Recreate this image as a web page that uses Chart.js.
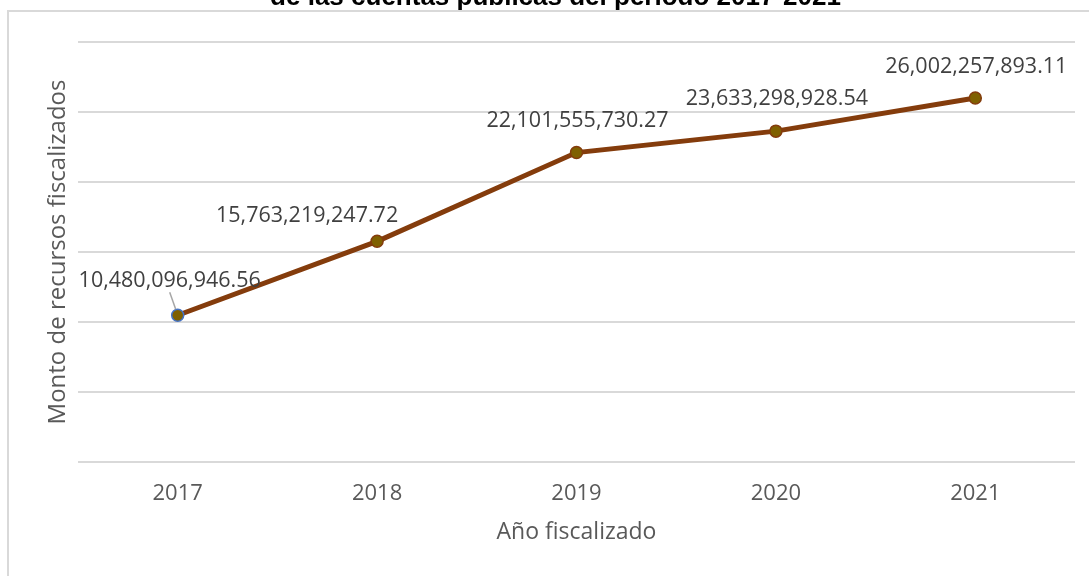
<!DOCTYPE html>
<html>
<head>
<meta charset="utf-8">
<script src="https://cdn.jsdelivr.net/npm/chart.js@4"></script>
<style>
  html, body { margin: 0; padding: 0; background: #fff; overflow: hidden; }
  #frame {
    position: absolute; left: 7px; top: 10px; width: 1200px; height: 700px;
    border-left: 2px solid #d9d9d9; border-top: 2px solid #d9d9d9;
  }
  #wrap { position: absolute; left: 0; top: -30px; width: 1089px; height: 606px; }
</style>
</head>
<body>
<div id="frame"></div>
<div id="wrap"><canvas id="montos"></canvas></div>
<script>
// años fiscalizados y monto de recursos (pesos)
const years = ['2017', '2018', '2019', '2020', '2021'];
const montos = [10480096946.56, 15763219247.72, 22101555730.27, 23633298928.54, 26002257893.11];
const yMax = 30000000000;
const yStep = 5000000000;

const COL_LINE = '#843c0c';
const COL_MARK = '#7f6000';
const COL_TEXT = '#595959';
const FONT = "'Open Sans', 'DejaVu Sans', sans-serif";

// where each value label sits relative to its marker (px)
const labelPos = [
    { dx: -8, dy: -34, leader: true },
    { dx: -70, dy: -25 },
    { dx: 1, dy: -32 },
    { dx: 1, dy: -32 },
    { dx: 1, dy: -31 }
];

function fmt(v) {
    return v.toLocaleString('en-US', { minimumFractionDigits: 2, maximumFractionDigits: 2 });
}

const valueLabels = {
    id: 'valueLabels',
    afterDatasetsDraw(chart) {
        const ctx = chart.ctx;
        const meta = chart.getDatasetMeta(0);
        const data = chart.data.datasets[0].data;
        ctx.save();
        ctx.font = '21.5px ' + FONT;
        ctx.fillStyle = '#404040';
        ctx.textAlign = 'center';
        ctx.textBaseline = 'middle';
        meta.data.forEach((pt, i) => {
            const p = labelPos[i];
            const x = pt.x + p.dx, y = pt.y + p.dy;
            if (p.leader) {
                ctx.strokeStyle = '#a6a6a6';
                ctx.lineWidth = 1.5;
                ctx.beginPath();
                ctx.moveTo(x, y + 11);
                ctx.lineTo(pt.x - 2, pt.y - 6);
                ctx.stroke();
            }
            ctx.fillText(fmt(data[i]), x, y);
        });
        ctx.restore();
    }
};

new Chart(document.getElementById('montos'), {
    type: 'line',
    data: {
        labels: years,
        datasets: [{
            data: montos,
            borderColor: COL_LINE,
            borderWidth: 5,
            tension: 0,
            pointRadius: 6,
            pointBorderWidth: 1.5,
            pointBackgroundColor: COL_MARK,
            pointBorderColor: ['#4472c4', COL_LINE, COL_LINE, COL_LINE, COL_LINE],
            fill: false
        }]
    },
    options: {
        responsive: true,
        maintainAspectRatio: false,
        animation: false,
        layout: { padding: { left: 36, right: 14, top: 0, bottom: 20 } },
        plugins: {
            legend: { display: false },
            tooltip: { enabled: false },
            title: {
                display: true,
                text: 'de las cuentas públicas del periodo 2017-2021',
                color: '#000',
                font: { family: "'Liberation Sans', Arial, sans-serif", size: 26, weight: 'bold' },
                padding: { top: 12.4, bottom: 28.4 }
            }
        },
        scales: {
            x: {
                offset: true,
                grid: { display: false, drawTicks: true, tickLength: 18.8 },
                border: { display: false },
                ticks: { color: COL_TEXT, font: { family: FONT, size: 22 }, padding: 0 },
                title: {
                    display: true,
                    text: 'Año fiscalizado',
                    color: COL_TEXT,
                    font: { family: FONT, size: 23 },
                    padding: { top: 11, bottom: 10.2 }
                }
            },
            y: {
                min: 0,
                max: yMax,
                ticks: { display: false, stepSize: yStep },
                grid: { color: '#d9d9d9', lineWidth: 2, drawTicks: false },
                border: { display: false },
                title: {
                    display: true,
                    text: 'Monto de recursos fiscalizados',
                    color: COL_TEXT,
                    font: { family: FONT, size: 24 },
                    padding: { top: 7.6, bottom: 5.6 }
                }
            }
        }
    },
    plugins: [valueLabels]
});
</script>
</body>
</html>
